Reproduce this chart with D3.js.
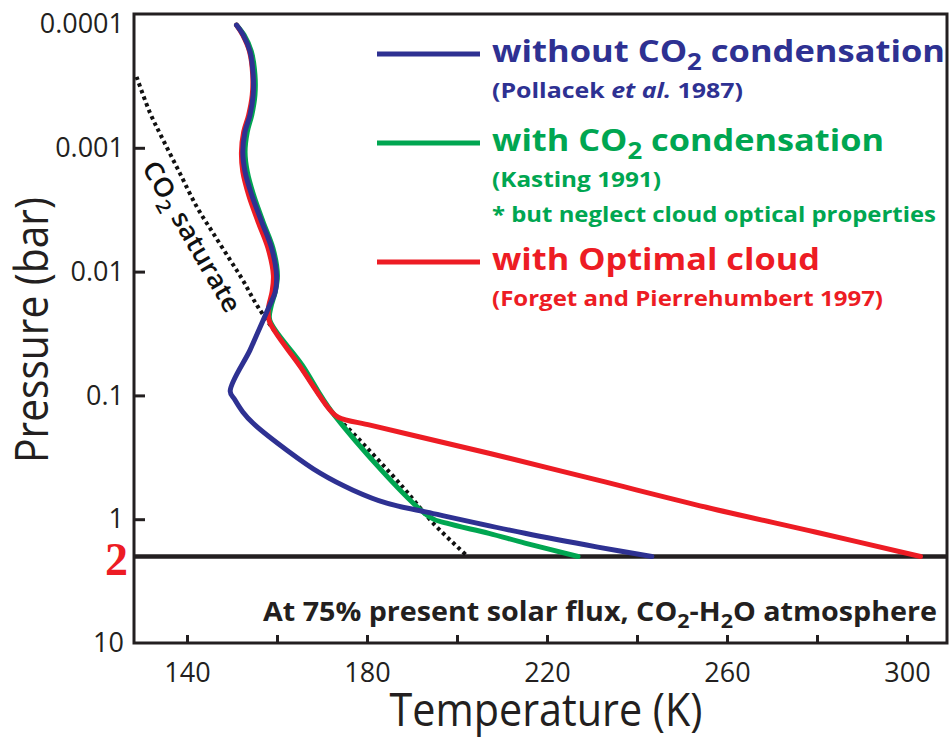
<!DOCTYPE html>
<html>
<head>
<meta charset="utf-8">
<script src="https://cdn.jsdelivr.net/npm/d3@7"></script>
<style>
  body { margin: 0; background: #fff; }
  svg { display: block; }
  text { font-family: 'Open Sans', sans-serif; }
</style>
</head>
<body>
<svg width="949" height="740"></svg>
<script>
const ink = '#231f20', blue = '#2e3192', green = '#00a651', red = '#ed1c24'

// [temperature K, pressure bar]
const withoutCondensation = [
  [151.0, 1.02e-4], [152.5, 1.23e-4], [154.0, 1.67e-4], [154.7, 2.58e-4], [154.7, 3.75e-4],
  [154.0, 5.43e-4], [152.9, 7.41e-4], [152.4, 1.08e-3], [152.9, 1.56e-3], [154.4, 2.41e-3],
  [156.6, 3.96e-3], [158.8, 6.46e-3], [159.9, 0.0107], [159.6, 0.0146], [158.1, 0.0197],
  [155.8, 0.0306], [154.0, 0.0431], [149.6, 0.0925], [150.6, 0.108], [152.4, 0.136],
  [154.7, 0.168], [162.2, 0.277], [169.6, 0.425], [176.9, 0.583], [184.4, 0.743],
  [193.3, 0.877], [215.1, 1.30], [231.3, 1.68], [243.3, 2.0]
]
const withCondensation = [
  [151.0, 1.02e-4], [152.7, 1.23e-4], [154.3, 1.67e-4], [155.1, 2.58e-4], [155.1, 3.75e-4],
  [154.4, 5.43e-4], [153.4, 7.41e-4], [152.9, 1.08e-3], [153.4, 1.56e-3], [154.8, 2.41e-3],
  [156.9, 3.96e-3], [159.1, 6.46e-3], [160.1, 0.0107], [159.6, 0.0146], [158.6, 0.0197],
  [158.4, 0.0247], [165.6, 0.057], [172.4, 0.139], [194.0, 0.964], [197.7, 1.077],
  [207.1, 1.30], [215.1, 1.56], [226.9, 2.0]
]
const optimalCloud = [
  [151.0, 1.02e-4], [152.4, 1.23e-4], [153.9, 1.67e-4], [154.6, 2.58e-4], [154.5, 3.75e-4],
  [153.7, 5.43e-4], [152.6, 7.41e-4], [152.1, 1.08e-3], [152.4, 1.56e-3], [153.7, 2.41e-3],
  [155.8, 3.96e-3], [158.0, 6.46e-3], [159.2, 0.0107], [158.9, 0.0146], [158.1, 0.0197],
  [158.3, 0.0252], [165.1, 0.058], [171.8, 0.1315], [173.6, 0.150], [180.7, 0.174],
  [191.8, 0.217], [207.1, 0.293], [231.3, 0.484], [255.4, 0.80], [279.6, 1.27],
  [303.0, 2.0]
]
const co2Saturation = [
  [128.8, 2.67e-4], [131.8, 5.24e-4], [134.7, 8.65e-4], [138.4, 1.60e-3], [142.2, 3.01e-3],
  [145.8, 4.89e-3], [149.6, 8.07e-3], [152.4, 0.01172], [155.8, 0.01936], [165.1, 0.058],
  [171.8, 0.1315], [176.9, 0.2017], [188.0, 0.552], [194.7, 1.077], [202.4, 2.0]
]

const xTicks = [140, 160, 180, 200, 220, 240, 260, 280, 300]
const xLabels = [140, 180, 220, 260, 300]
const yTicks = [0.0001, 0.001, 0.01, 0.1, 1, 10]
const surfacePressure = 2

// legend text, split in runs: '' plain, 'sub' subscript, 'it' italic
const legendItems = [
  { color: blue, title: [['without CO'], ['2', 'sub'], [' condensation']],
    notes: [[['(Pollacek '], ['et al.', 'it'], [' 1987)']]] },
  { color: green, title: [['with CO'], ['2', 'sub'], [' condensation']],
    notes: [[['(Kasting 1991)']], [['* but neglect cloud optical properties']]] },
  { color: red, title: [['with Optimal cloud']],
    notes: [[['(Forget and Pierrehumbert 1997)']]] }
]
const noteText = [['At 75% present solar flux, CO'], ['2', 'sub'], ['-H'], ['2', 'sub'], ['O atmosphere']]

const svg = d3.select('svg')
const frame = { left: 134, right: 947, top: 14, bottom: 643 }

const x = d3.scaleLinear().domain([140, 300]).range([187, 907])
const y = d3.scaleLog().domain([1e-4, 10]).range([24, 643])

const rich = (sel, parts, size) => {
  let shift = 0
  parts.forEach(([s, kind]) => {
    const t = sel.append('tspan').text(s)
    const want = kind === 'sub' ? size * 0.28 : 0
    if (want !== shift) { t.attr('dy', want - shift); shift = want }
    if (kind === 'sub') t.attr('font-size', size * 0.75)
    if (kind === 'it') t.attr('font-style', 'italic')
  })
  return sel
}
const fit = (sel, w) => sel.attr('textLength', w).attr('lengthAdjust', 'spacingAndGlyphs')

//#region axes
const xAxis = svg.append('g')
  .attr('transform', `translate(0,${frame.bottom})`)
  .call(d3.axisBottom(x).tickValues(xTicks).tickSize(-8).tickPadding(20))
xAxis.select('.domain').remove()
xAxis.selectAll('.tick').filter(d => !xLabels.includes(d)).select('text').remove()
xAxis.selectAll('line').attr('stroke', ink).attr('stroke-width', 3)
xAxis.selectAll('text').attr('font-size', 27).attr('fill', ink)

const yAxis = svg.append('g')
  .attr('transform', `translate(${frame.left},0)`)
  .call(d3.axisLeft(y).tickValues(yTicks).tickSize(-11).tickPadding(10)
    .tickFormat(d3.format('~g')))
yAxis.select('.domain').remove()
yAxis.selectAll('.tick').filter(d => d === 1e-4 || d === 10).select('line').remove()
yAxis.selectAll('line').attr('stroke', ink).attr('stroke-width', 3)
yAxis.selectAll('text').attr('font-size', 27).attr('fill', ink)

svg.append('rect')
  .attr('x', frame.left).attr('y', frame.top)
  .attr('width', frame.right - frame.left).attr('height', frame.bottom - frame.top)
  .attr('fill', 'none').attr('stroke', ink).attr('stroke-width', 3)

svg.append('line')
  .attr('x1', frame.left).attr('x2', frame.right)
  .attr('y1', y(surfacePressure)).attr('y2', y(surfacePressure))
  .attr('stroke', ink).attr('stroke-width', 4.5)

svg.append('text')
  .attr('x', 128).attr('y', y(surfacePressure) + 19)
  .attr('text-anchor', 'end')
  .style('font-family', "'Liberation Serif', serif")
  .attr('font-weight', 700).attr('font-size', 46).attr('fill', red)
  .text(surfacePressure)

fit(svg.append('text')
  .attr('transform', 'translate(48,330) rotate(-90)')
  .attr('text-anchor', 'middle').attr('font-size', 46).attr('fill', ink)
  .text('Pressure (bar)'), 266)

fit(svg.append('text')
  .attr('x', 546).attr('y', 726)
  .attr('text-anchor', 'middle').attr('font-size', 45).attr('fill', ink)
  .text('Temperature (K)'), 313)
//#endregion

//#region curves
const line = d3.line()
  .x(d => x(d[0])).y(d => y(d[1]))
  .curve(d3.curveCatmullRom.alpha(0.5))

svg.append('path')
  .attr('d', line(co2Saturation))
  .attr('fill', 'none').attr('stroke', '#111').attr('stroke-width', 4)
  .attr('stroke-dasharray', '3.5 3.5')

fit(rich(svg.append('text')
  .attr('transform', 'translate(184,241) rotate(60)')
  .attr('text-anchor', 'middle').attr('font-size', 26).attr('font-weight', 600)
  .attr('fill', '#111'), [['CO'], ['2', 'sub'], [' saturate']], 26), 170)

const series = [
  [withCondensation, green],
  [optimalCloud, red],
  [withoutCondensation, blue]
]
svg.append('g').selectAll('path')
  .data(series).join('path')
  .attr('d', d => line(d[0]))
  .attr('fill', 'none').attr('stroke', d => d[1]).attr('stroke-width', 5)
  .attr('stroke-linecap', 'round').attr('stroke-linejoin', 'round')
//#endregion

//#region legend
const legendRows = [54, 143, 262]
const legendWidths = [[453, 251], [392, 169, 444], [328, 391]]
legendItems.forEach((item, i) => {
  const ly = legendRows[i]
  svg.append('line')
    .attr('x1', 377).attr('x2', 480).attr('y1', ly).attr('y2', ly)
    .attr('stroke', item.color).attr('stroke-width', 5)
  fit(rich(svg.append('text')
    .attr('x', 492).attr('y', ly + 8)
    .attr('font-size', 30).attr('font-weight', 700).attr('fill', item.color),
    item.title, 30), legendWidths[i][0])
  item.notes.forEach((note, j) => {
    fit(rich(svg.append('text')
      .attr('x', 492).attr('y', ly + 8 + 36 * (j + 1) - j)
      .attr('font-size', 21).attr('font-weight', 700).attr('fill', item.color),
      note, 21), legendWidths[i][j + 1])
  })
})

fit(rich(svg.append('text')
  .attr('x', 263).attr('y', 621)
  .attr('font-size', 26).attr('font-weight', 700).attr('fill', ink),
  noteText, 26), 674)
//#endregion
</script>
</body>
</html>
